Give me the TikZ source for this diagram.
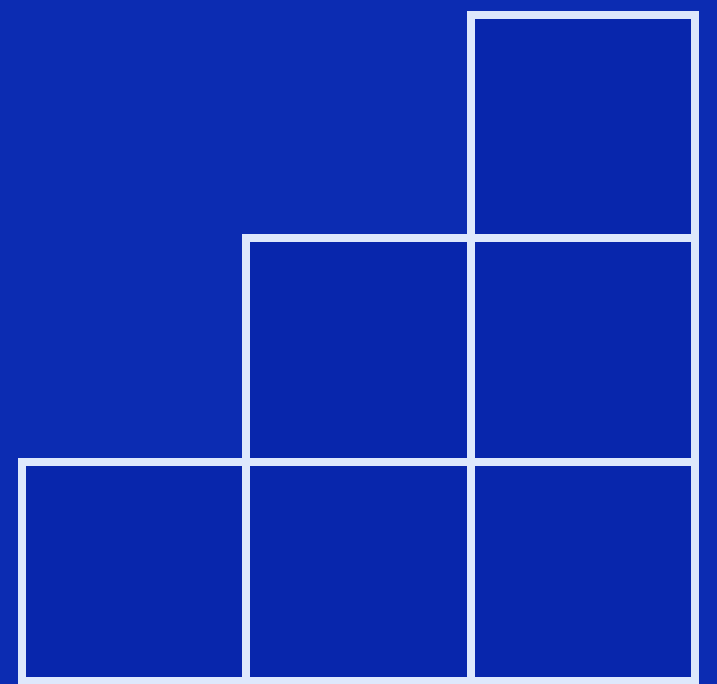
\documentclass[tikz,border=0pt]{standalone}
\definecolor{bgblue}{RGB}{12,44,178}
\definecolor{inblue}{RGB}{8,38,172}
\definecolor{linewhite}{RGB}{222,232,252}
\tikzset{gridline/.style={draw=linewhite,line width=8pt,line cap=rect,line join=miter}}
\begin{document}
\begin{tikzpicture}[x=1pt,y=1pt]
\useasboundingbox (0,0) rectangle (717,684);
\fill[bgblue] (0,0) rectangle (717,684);
% coordinates (y flipped)
\coordinate (a0) at (22,3);
\coordinate (a1) at (22,222);
\coordinate (b0) at (246,3);
\coordinate (b1) at (246,222);
\coordinate (b2) at (246,446);
\coordinate (c0) at (471,3);
\coordinate (c1) at (471,222);
\coordinate (c2) at (471,446);
\coordinate (c3) at (471,669);
\coordinate (d0) at (695,3);
\coordinate (d1) at (695,222);
\coordinate (d2) at (695,446);
\coordinate (d3) at (695,669);
\fill[inblue] (a0) rectangle (d1);
\fill[inblue] (b1) rectangle (d2);
\fill[inblue] (c2) rectangle (d3);
\draw[gridline] (a0) -- (d0) -- (d3) -- (c3) -- (c0);
\draw[gridline] (c2) -- (b2) -- (b0);
\draw[gridline] (a0) -- (a1) -- (d1);
\draw[gridline] (c2) -- (d2);
\end{tikzpicture}
\end{document}
